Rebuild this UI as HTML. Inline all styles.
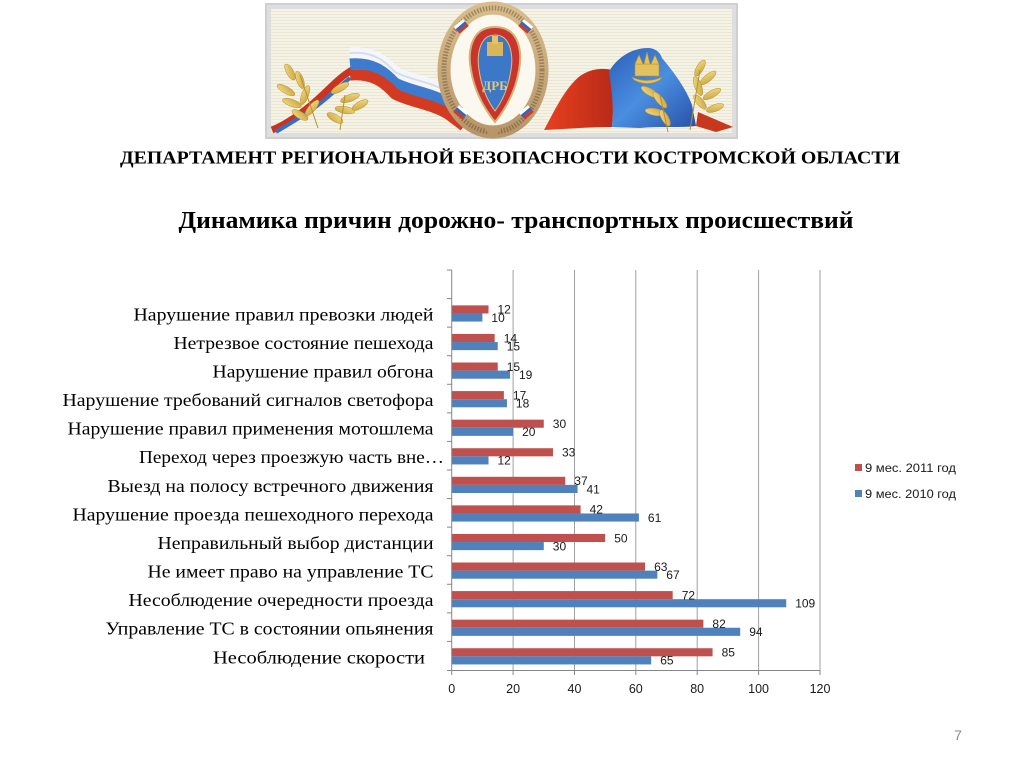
<!DOCTYPE html>
<html><head><meta charset="utf-8"><style>
html,body{margin:0;padding:0;background:#fff;}
svg{display:block;}
</style></head><body>
<svg width="1024" height="768" viewBox="0 0 1024 768" xmlns="http://www.w3.org/2000/svg">
<defs>
<pattern id="stripes" width="6" height="3" patternUnits="userSpaceOnUse">
<rect width="6" height="3" fill="#f5f2e6"/><rect y="2" width="6" height="1" fill="#ebe6d4"/>
</pattern>
<linearGradient id="rfl" x1="0" y1="0" x2="1" y2="0"><stop offset="0" stop-color="#e8401f"/><stop offset="1" stop-color="#b82a18"/></linearGradient>
<linearGradient id="bfl" x1="0" y1="0" x2="1" y2="1"><stop offset="0" stop-color="#2c5fb8"/><stop offset="0.5" stop-color="#4a8ee0"/><stop offset="1" stop-color="#2850a8"/></linearGradient>
<linearGradient id="gold" x1="0" y1="0" x2="1" y2="1"><stop offset="0" stop-color="#f2dc8a"/><stop offset="1" stop-color="#c9a23a"/></linearGradient>
<linearGradient id="ring" x1="0" y1="0" x2="0" y2="1"><stop offset="0" stop-color="#d8bc8c"/><stop offset="1" stop-color="#b8966a"/></linearGradient>
</defs>

<!-- Banner -->
<rect x="265" y="3" width="473" height="136" fill="#cfcfcf"/>
<rect x="267" y="5" width="469" height="132" fill="#dedede"/>
<rect x="271" y="9" width="461" height="124" fill="url(#stripes)"/>

<!-- left ribbon to lower-left -->
<path d="M352,70 C335,80 325,95 305,110 C292,120 282,126 272,130" stroke="#c8341f" stroke-width="7" fill="none"/>
<path d="M350,78 C335,90 322,104 302,116 C290,124 282,128 276,132" stroke="#3a6fc0" stroke-width="4" fill="none"/>
<!-- left Russian flag -->
<path d="M350,53 C372,51 384,60 395,72 C410,80 432,82 448,92 L461,103" stroke="#f4f6fa" stroke-width="11" fill="none"/>
<path d="M350,53 C372,51 384,60 395,72 C410,80 432,82 448,92 L461,103" stroke="#c9d3e6" stroke-width="2" fill="none" opacity="0.7"/>
<path d="M350,64 C372,62 384,71 395,83 C410,91 432,93 448,103 L462,114" stroke="#3d7ccc" stroke-width="11" fill="none"/>
<path d="M350,75 C372,73 384,82 395,94 C410,102 432,104 448,114 L464,126" stroke="#d23a22" stroke-width="11" fill="none"/>
<!-- left wheat -->
<g fill="url(#gold)" stroke="#b8902a" stroke-width="0.5">
<ellipse cx="290" cy="72" rx="3.5" ry="9" transform="rotate(-30 290 72)"/>
<ellipse cx="300" cy="80" rx="3.5" ry="9" transform="rotate(-20 300 80)"/>
<ellipse cx="286" cy="90" rx="3.5" ry="10" transform="rotate(-60 286 90)"/>
<ellipse cx="305" cy="95" rx="3.5" ry="10" transform="rotate(20 305 95)"/>
<ellipse cx="292" cy="103" rx="3.5" ry="10" transform="rotate(-70 292 103)"/>
<ellipse cx="312" cy="108" rx="3.5" ry="10" transform="rotate(40 312 108)"/>
<ellipse cx="300" cy="115" rx="3.5" ry="9" transform="rotate(-60 300 115)"/>
<ellipse cx="340" cy="88" rx="3.5" ry="10" transform="rotate(60 340 88)"/>
<ellipse cx="350" cy="98" rx="3.5" ry="10" transform="rotate(70 350 98)"/>
<ellipse cx="345" cy="110" rx="3.5" ry="10" transform="rotate(100 345 110)"/>
<ellipse cx="360" cy="105" rx="3.5" ry="9" transform="rotate(60 360 105)"/>
<ellipse cx="335" cy="118" rx="3.5" ry="9" transform="rotate(120 335 118)"/>
</g>
<path d="M300,75 L318,128 M345,95 L340,130" stroke="#b8902a" stroke-width="1" fill="none"/>

<!-- central emblem -->
<ellipse cx="493" cy="70" rx="49" ry="62" fill="none" stroke="url(#ring)" stroke-width="13"/>
<ellipse cx="493" cy="70" rx="49" ry="62" fill="none" stroke="#5a4628" stroke-width="5" stroke-dasharray="1.5 1.5" opacity="0.45"/>
<polygon points="485,129 501,129 493,139" fill="#b8966a"/>
<ellipse cx="493" cy="70" rx="42" ry="55" fill="#fbf8f0"/>
<g>
<rect x="455" y="22" width="12" height="3" fill="#fff" transform="rotate(-40 461 26)"/>
<rect x="455" y="25" width="12" height="3" fill="#2f66c0" transform="rotate(-40 461 26)"/>
<rect x="455" y="28" width="12" height="3" fill="#d23a22" transform="rotate(-40 461 26)"/>
<rect x="520" y="22" width="12" height="3" fill="#fff" transform="rotate(40 526 26)"/>
<rect x="520" y="25" width="12" height="3" fill="#2f66c0" transform="rotate(40 526 26)"/>
<rect x="520" y="28" width="12" height="3" fill="#d23a22" transform="rotate(40 526 26)"/>
<rect x="455" y="108" width="12" height="3" fill="#fff" transform="rotate(40 461 112)"/>
<rect x="455" y="111" width="12" height="3" fill="#2f66c0" transform="rotate(40 461 112)"/>
<rect x="455" y="114" width="12" height="3" fill="#d23a22" transform="rotate(40 461 112)"/>
<rect x="520" y="108" width="12" height="3" fill="#fff" transform="rotate(-40 526 112)"/>
<rect x="520" y="111" width="12" height="3" fill="#2f66c0" transform="rotate(-40 526 112)"/>
<rect x="520" y="114" width="12" height="3" fill="#d23a22" transform="rotate(-40 526 112)"/>
</g>
<path d="M495,27 C521,27 522,55 519,70 C515,95 503,112 495,122 C487,112 475,95 471,70 C468,55 469,27 495,27 Z" fill="#c8352e" stroke="#d8b070" stroke-width="2"/>
<path d="M495,35 C512,35 513,58 511,70 C508,90 501,103 495,111 C489,103 482,90 479,70 C477,58 478,35 495,35 Z" fill="#3d78c8" stroke="#e0c070" stroke-width="1"/>
<rect x="487" y="42" width="16" height="14" fill="#d9b65a"/>
<rect x="492" y="36" width="6" height="8" fill="#e2c46a"/>
<text x="495" y="90" text-anchor="middle" font-family="Liberation Serif, serif" font-size="13" font-weight="bold" fill="#e6c870">ДРБ</text>

<!-- right flag -->
<path d="M544,130 C555,110 565,88 580,76 C592,68 603,68 612,70 L614,100 L612,127 C590,127 565,129 544,130 Z" fill="url(#rfl)"/>
<path d="M609,72 C615,60 630,48 648,48 C655,48 660,52 662,58 C672,70 686,88 692,105 L696,126 C680,128 660,126 640,128 L612,127 C614,110 612,90 609,72 Z" fill="url(#bfl)"/>
<g fill="#e2c25e" stroke="#b8902a" stroke-width="0.6">
<rect x="635" y="64" width="24" height="12"/>
<polygon points="635,64 639,55 643,64"/><polygon points="644,64 647,52 650,64"/><polygon points="651,64 655,55 659,64"/>
<path d="M632,77 Q647,84 662,77 L660,80 Q647,87 634,80 Z"/>
</g>
<polygon points="698,112 733,127 716,132 696,126" fill="#c8381f"/>
<g fill="url(#gold)" stroke="#b8902a" stroke-width="0.5">
<ellipse cx="650" cy="92" rx="3.5" ry="10" transform="rotate(-60 650 92)"/>
<ellipse cx="660" cy="100" rx="3.5" ry="10" transform="rotate(-40 660 100)"/>
<ellipse cx="655" cy="112" rx="3.5" ry="10" transform="rotate(-80 655 112)"/>
<ellipse cx="665" cy="118" rx="3.5" ry="9" transform="rotate(-30 665 118)"/>
<ellipse cx="700" cy="68" rx="3.5" ry="9" transform="rotate(30 700 68)"/>
<ellipse cx="708" cy="78" rx="3.5" ry="10" transform="rotate(50 708 78)"/>
<ellipse cx="698" cy="86" rx="3.5" ry="10" transform="rotate(-20 698 86)"/>
<ellipse cx="712" cy="94" rx="3.5" ry="10" transform="rotate(60 712 94)"/>
<ellipse cx="700" cy="102" rx="3.5" ry="9" transform="rotate(-40 700 102)"/>
<ellipse cx="715" cy="108" rx="3.5" ry="9" transform="rotate(70 715 108)"/>
</g>
<path d="M700,70 L690,130 M660,95 L668,132" stroke="#b8902a" stroke-width="1" fill="none"/>

<!-- Titles -->
<text x="120" y="163.5" font-family="Liberation Serif, serif" font-size="18" font-weight="bold" fill="#000" textLength="780" lengthAdjust="spacingAndGlyphs">ДЕПАРТАМЕНТ РЕГИОНАЛЬНОЙ БЕЗОПАСНОСТИ КОСТРОМСКОЙ ОБЛАСТИ</text>
<text x="178.5" y="228" font-family="Liberation Serif, serif" font-size="24" font-weight="bold" fill="#000" textLength="675" lengthAdjust="spacingAndGlyphs">Динамика причин дорожно- транспортных происшествий</text>

<!-- Gridlines -->
<g stroke="#a0a0a0" stroke-width="1">
<line x1="513.1" y1="270" x2="513.1" y2="670.5"/>
<line x1="574.5" y1="270" x2="574.5" y2="670.5"/>
<line x1="635.8" y1="270" x2="635.8" y2="670.5"/>
<line x1="697.2" y1="270" x2="697.2" y2="670.5"/>
<line x1="758.6" y1="270" x2="758.6" y2="670.5"/>
<line x1="820" y1="270" x2="820" y2="670.5"/>
</g>

<!-- Bars -->
<g fill="#c0504d">
<rect x="451.7" y="305.37" width="36.83" height="8.1"/>
<rect x="451.7" y="333.94" width="42.97" height="8.1"/>
<rect x="451.7" y="362.51" width="46.04" height="8.1"/>
<rect x="451.7" y="391.09" width="52.18" height="8.1"/>
<rect x="451.7" y="419.66" width="92.08" height="8.1"/>
<rect x="451.7" y="448.23" width="101.28" height="8.1"/>
<rect x="451.7" y="476.8" width="113.56" height="8.1"/>
<rect x="451.7" y="505.37" width="128.91" height="8.1"/>
<rect x="451.7" y="533.94" width="153.46" height="8.1"/>
<rect x="451.7" y="562.51" width="193.36" height="8.1"/>
<rect x="451.7" y="591.09" width="220.98" height="8.1"/>
<rect x="451.7" y="619.66" width="251.67" height="8.1"/>
<rect x="451.7" y="648.23" width="260.88" height="8.1"/>
</g>
<g fill="#4f81bd">
<rect x="451.7" y="313.47" width="30.69" height="8.1"/>
<rect x="451.7" y="342.04" width="46.04" height="8.1"/>
<rect x="451.7" y="370.61" width="58.31" height="8.1"/>
<rect x="451.7" y="399.19" width="55.25" height="8.1"/>
<rect x="451.7" y="427.76" width="61.38" height="8.1"/>
<rect x="451.7" y="456.33" width="36.83" height="8.1"/>
<rect x="451.7" y="484.9" width="125.84" height="8.1"/>
<rect x="451.7" y="513.47" width="187.22" height="8.1"/>
<rect x="451.7" y="542.04" width="92.08" height="8.1"/>
<rect x="451.7" y="570.61" width="205.64" height="8.1"/>
<rect x="451.7" y="599.19" width="334.54" height="8.1"/>
<rect x="451.7" y="627.76" width="288.50" height="8.1"/>
<rect x="451.7" y="656.33" width="199.50" height="8.1"/>
</g>

<!-- Axes -->
<g stroke="#868686" stroke-width="1">
<line x1="451.7" y1="270" x2="451.7" y2="670.5"/>
<line x1="451.7" y1="670.5" x2="820" y2="670.5"/>
<line x1="447" y1="270" x2="451.7" y2="270"/>
<line x1="447" y1="298.57" x2="451.7" y2="298.57"/>
<line x1="447" y1="327.14" x2="451.7" y2="327.14"/>
<line x1="447" y1="355.71" x2="451.7" y2="355.71"/>
<line x1="447" y1="384.29" x2="451.7" y2="384.29"/>
<line x1="447" y1="412.86" x2="451.7" y2="412.86"/>
<line x1="447" y1="441.43" x2="451.7" y2="441.43"/>
<line x1="447" y1="470" x2="451.7" y2="470"/>
<line x1="447" y1="498.57" x2="451.7" y2="498.57"/>
<line x1="447" y1="527.14" x2="451.7" y2="527.14"/>
<line x1="447" y1="555.71" x2="451.7" y2="555.71"/>
<line x1="447" y1="584.29" x2="451.7" y2="584.29"/>
<line x1="447" y1="612.86" x2="451.7" y2="612.86"/>
<line x1="447" y1="641.43" x2="451.7" y2="641.43"/>
<line x1="447" y1="670.5" x2="451.7" y2="670.5"/>
<line x1="451.7" y1="670.5" x2="451.7" y2="675"/>
<line x1="513.1" y1="670.5" x2="513.1" y2="675"/>
<line x1="574.5" y1="670.5" x2="574.5" y2="675"/>
<line x1="635.8" y1="670.5" x2="635.8" y2="675"/>
<line x1="697.2" y1="670.5" x2="697.2" y2="675"/>
<line x1="758.6" y1="670.5" x2="758.6" y2="675"/>
<line x1="820" y1="670.5" x2="820" y2="675"/>
</g>

<!-- Data labels -->
<g font-family="Liberation Sans, Arial, sans-serif" font-size="12" fill="#1a1a1a">
<text x="497.5" y="313.7">12</text><text x="491.4" y="321.8">10</text>
<text x="503.7" y="342.3">14</text><text x="506.7" y="350.4">15</text>
<text x="506.7" y="370.9">15</text><text x="519.0" y="379.0">19</text>
<text x="512.9" y="399.4">17</text><text x="515.9" y="407.5">18</text>
<text x="552.8" y="428.0">30</text><text x="522.1" y="436.1">20</text>
<text x="562.0" y="456.6">33</text><text x="497.5" y="464.7">12</text>
<text x="574.3" y="485.2">37</text><text x="586.5" y="493.3">41</text>
<text x="589.6" y="513.7">42</text><text x="647.9" y="521.8">61</text>
<text x="614.2" y="542.3">50</text><text x="552.8" y="550.4">30</text>
<text x="654.1" y="570.9">63</text><text x="666.3" y="579.0">67</text>
<text x="681.7" y="599.4">72</text><text x="795.2" y="607.5">109</text>
<text x="712.4" y="628.0">82</text><text x="749.2" y="636.1">94</text>
<text x="721.6" y="656.6">85</text><text x="660.2" y="664.7">65</text>
</g>

<!-- X axis labels -->
<g font-family="Liberation Sans, Arial, sans-serif" font-size="12.5" fill="#1a1a1a" text-anchor="middle">
<text x="451.7" y="693">0</text>
<text x="513.1" y="693">20</text>
<text x="574.5" y="693">40</text>
<text x="635.8" y="693">60</text>
<text x="697.2" y="693">80</text>
<text x="758.6" y="693">100</text>
<text x="820" y="693">120</text>
</g>

<!-- Category labels -->
<g font-family="Liberation Serif, serif" font-size="17.5" fill="#000" text-anchor="end" lengthAdjust="spacingAndGlyphs">
<text x="433.5" y="320.4" textLength="300" lengthAdjust="spacingAndGlyphs">Нарушение правил превозки людей</text>
<text x="433.5" y="349.0" textLength="260" lengthAdjust="spacingAndGlyphs">Нетрезвое состояние пешехода</text>
<text x="433.5" y="377.5" textLength="221" lengthAdjust="spacingAndGlyphs">Нарушение правил обгона</text>
<text x="433.5" y="406.1" textLength="371" lengthAdjust="spacingAndGlyphs">Нарушение требований сигналов светофора</text>
<text x="433.5" y="434.6" textLength="366" lengthAdjust="spacingAndGlyphs">Нарушение правил применения мотошлема</text>
<text x="444" y="463.2" textLength="305" lengthAdjust="spacingAndGlyphs">Переход через проезжую часть вне…</text>
<text x="433.5" y="491.8" textLength="326" lengthAdjust="spacingAndGlyphs">Выезд на полосу встречного движения</text>
<text x="433.5" y="520.4" textLength="361" lengthAdjust="spacingAndGlyphs">Нарушение проезда пешеходного перехода</text>
<text x="433.5" y="548.9" textLength="276" lengthAdjust="spacingAndGlyphs">Неправильный выбор дистанции</text>
<text x="433.5" y="577.5" textLength="286" lengthAdjust="spacingAndGlyphs">Не имеет право на управление ТС</text>
<text x="433.5" y="606.1" textLength="305" lengthAdjust="spacingAndGlyphs">Несоблюдение очередности проезда</text>
<text x="433.5" y="634.6" textLength="328" lengthAdjust="spacingAndGlyphs">Управление ТС в состоянии опьянения</text>
<text x="425" y="663.5" textLength="212" lengthAdjust="spacingAndGlyphs">Несоблюдение  скорости</text>
</g>

<!-- Legend -->
<rect x="855" y="464" width="7" height="7" fill="#c0504d"/>
<text x="865" y="472" font-family="Liberation Sans, Arial, sans-serif" font-size="12" fill="#1a1a1a" textLength="91" lengthAdjust="spacingAndGlyphs">9 мес. 2011 год</text>
<rect x="855" y="490" width="7" height="7" fill="#4f81bd"/>
<text x="865" y="498" font-family="Liberation Sans, Arial, sans-serif" font-size="12" fill="#1a1a1a" textLength="91" lengthAdjust="spacingAndGlyphs">9 мес. 2010 год</text>

<!-- Page number -->
<text x="958" y="740" text-anchor="middle" font-family="Liberation Sans, Arial, sans-serif" font-size="14" fill="#8a8a8a">7</text>
</svg>
</body></html>
